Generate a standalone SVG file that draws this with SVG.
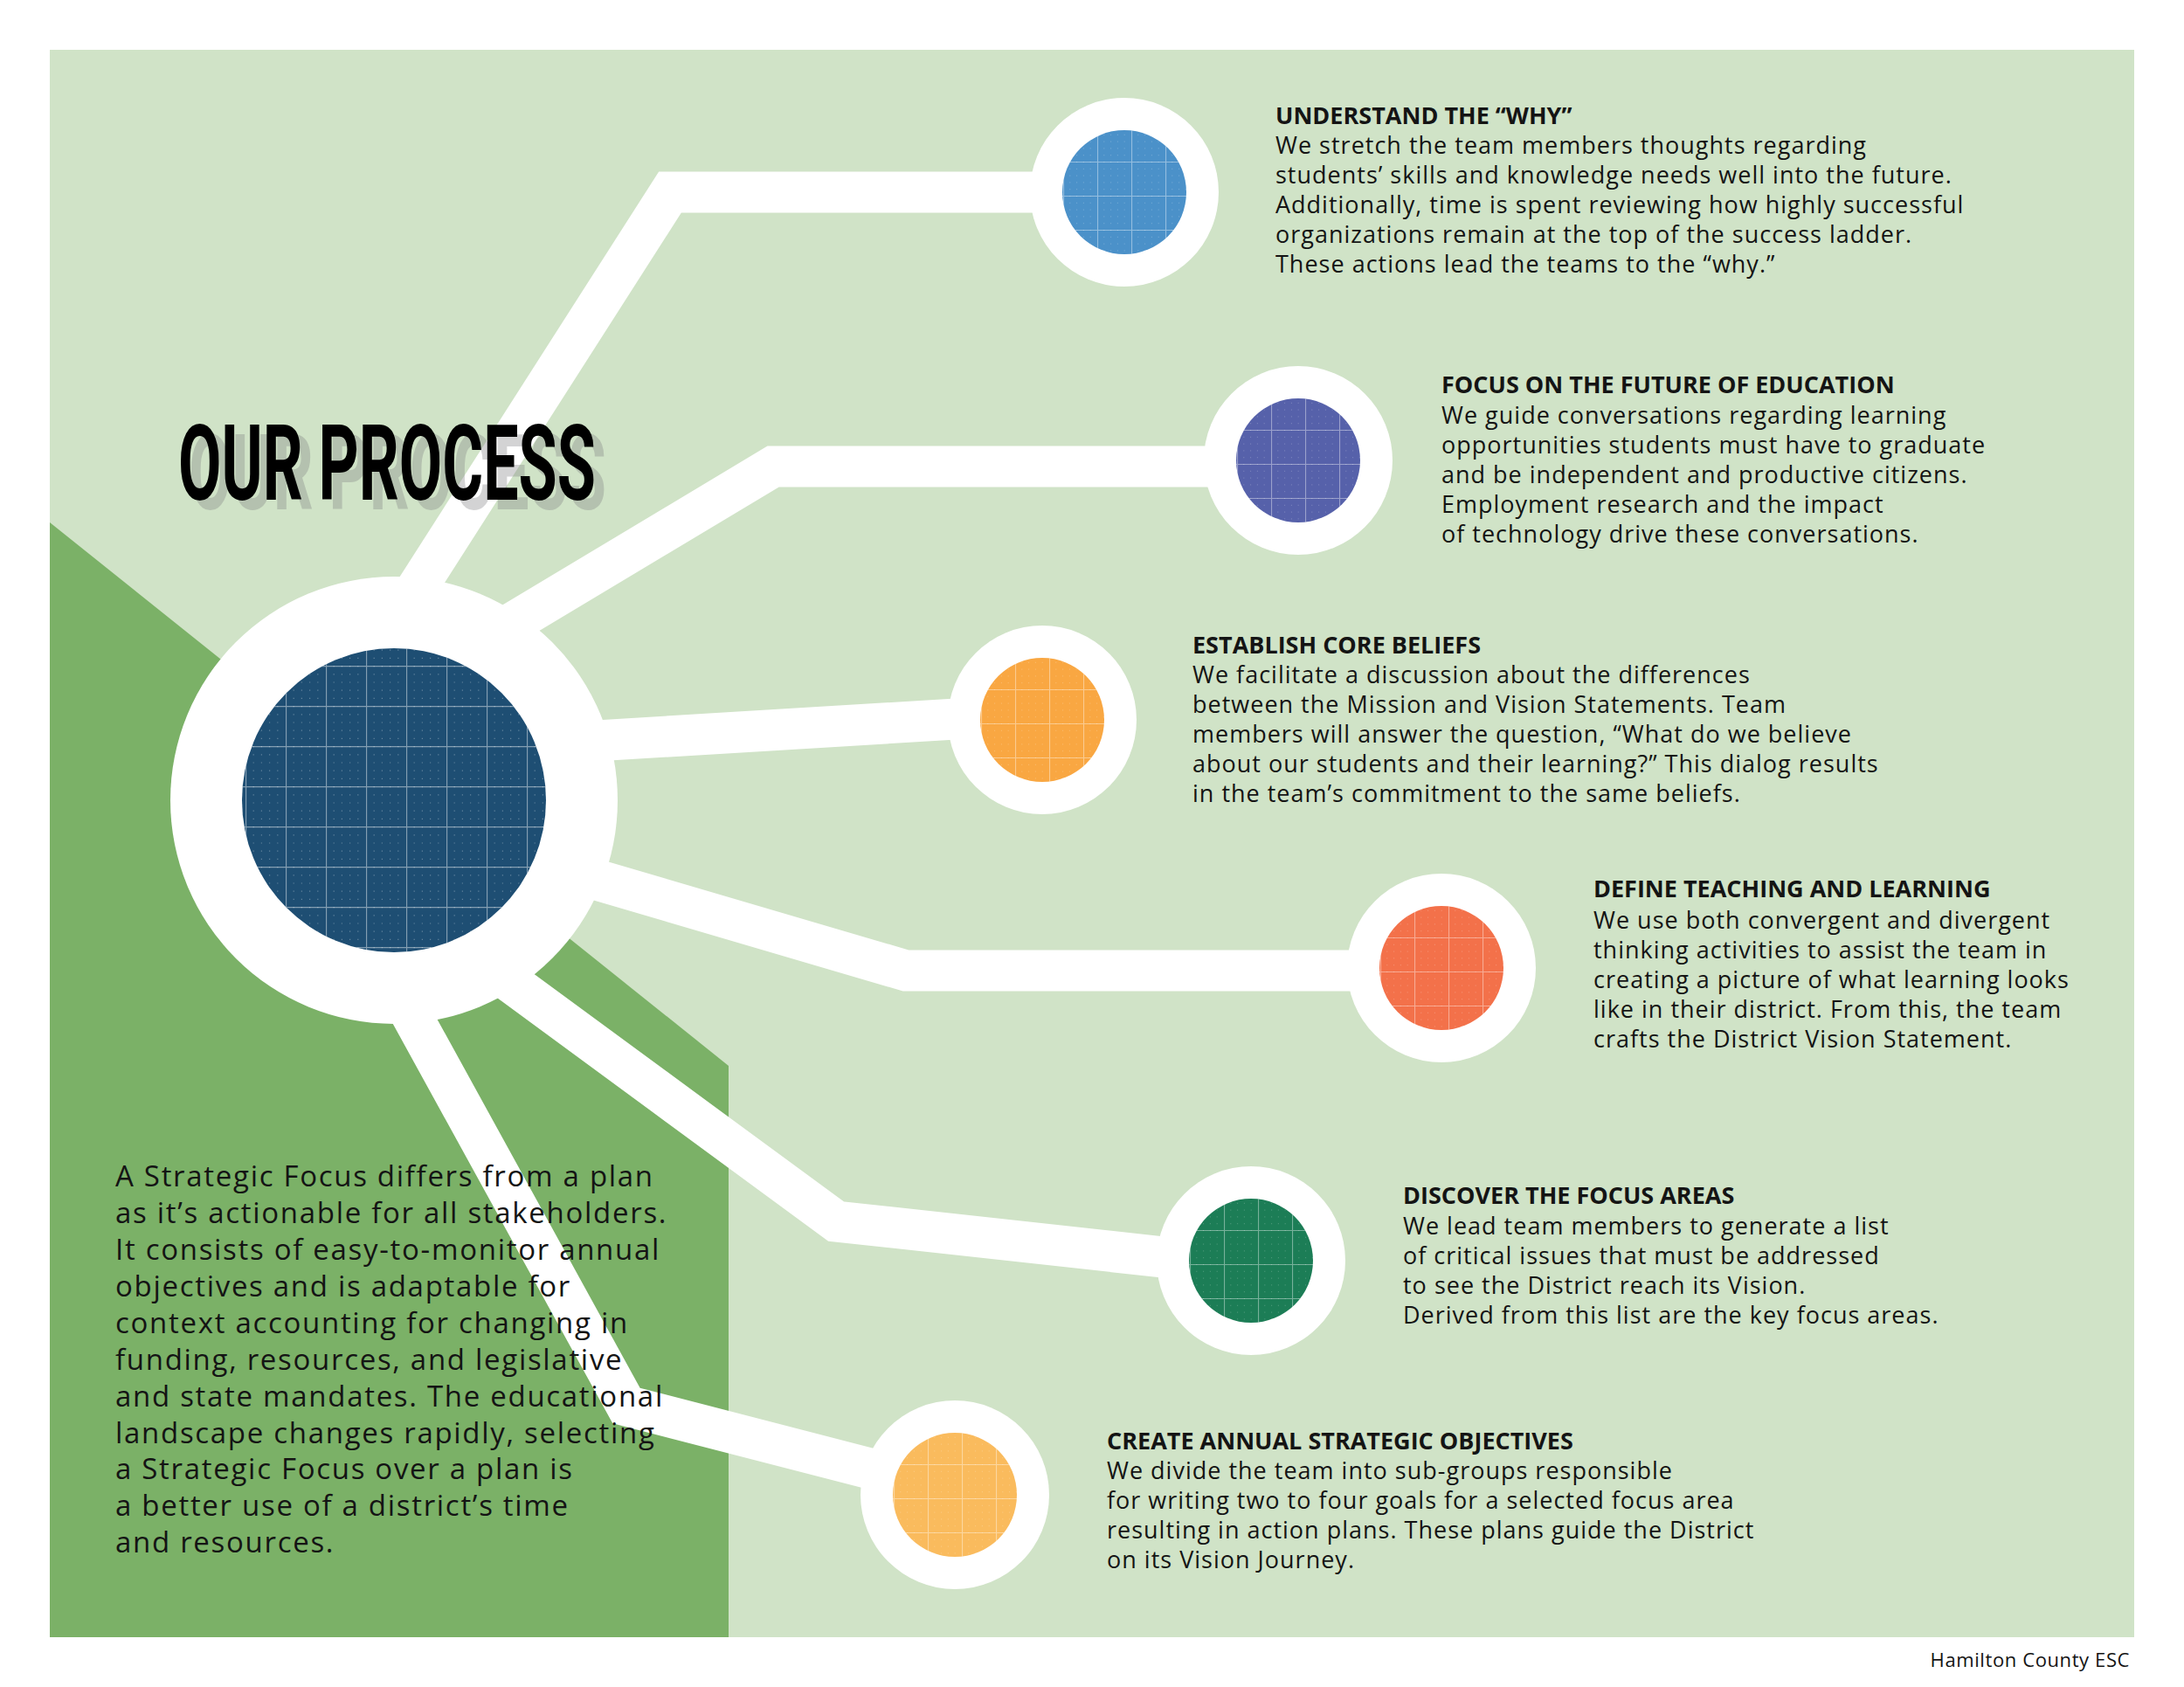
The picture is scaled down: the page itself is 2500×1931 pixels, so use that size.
<svg xmlns="http://www.w3.org/2000/svg" width="2500" height="1931" viewBox="0 0 2500 1931">
<style>
.t{font-family:"Open Sans","Liberation Sans",sans-serif;fill:#141414}
.b{font-size:27px;letter-spacing:1px}
.h{font-size:27px;font-weight:700}
.p{font-size:33px;letter-spacing:1.7px}
.conn{fill:none;stroke:#ffffff;stroke-width:47;stroke-linejoin:miter}
.ring{fill:#ffffff}
.title{font-family:Roboto,"Liberation Sans",sans-serif;font-weight:700;font-size:120px}
</style>
<defs>
<pattern id="gridL" patternUnits="userSpaceOnUse" x="14" y="30" width="46" height="46">
<path d="M0.5 0V46M0 0.5H46" stroke="#ffffff" stroke-opacity="0.45" stroke-width="1.3" fill="none"/>
<path d="M9.2 0V46M18.4 0V46M27.6 0V46M36.8 0V46" stroke="#ffffff" stroke-opacity="0.3" stroke-width="1.2" stroke-dasharray="1.2 8" fill="none"/>
</pattern>
<pattern id="gridS" patternUnits="userSpaceOnUse" x="8" y="4" width="39" height="39">
<path d="M0.5 0V39M0 0.5H39" stroke="#ffffff" stroke-opacity="0.4" stroke-width="1.2" fill="none"/>
<path d="M7.8 0V39M15.6 0V39M23.4 0V39M31.2 0V39" stroke="#ffffff" stroke-opacity="0.25" stroke-width="1" stroke-dasharray="1 6.8" fill="none"/>
</pattern>
</defs>
<rect width="2500" height="1931" fill="#ffffff"/>
<rect x="57" y="57" width="2386" height="1817" fill="#d0e3c7"/>
<polygon points="57,598 834,1220 834,1874 57,1874" fill="#7bb167"/>

<g id="connectors">
<polyline class="conn" points="396,800 767,220 1287,220"/>
<polyline class="conn" points="500,765 885,534 1486,534"/>
<polyline class="conn" points="500,859 1193,817"/>
<polyline class="conn" points="550,968 1037,1111 1650,1111"/>
<polyline class="conn" points="520,1077 957,1398 1432,1450"/>
<polyline class="conn" points="437,1100 717,1609 1093,1706"/>
</g>

<g id="hub">
<circle class="ring" cx="451" cy="916" r="256"/>
<g transform="translate(451,916)">
<circle r="174" fill="#1e4e73"/>
<circle r="174" fill="url(#gridL)"/>
</g>
</g>

<g id="node-why" transform="translate(1287,220)">
<circle class="ring" r="108"/>
<circle r="71" fill="#4b91c9"/>
<circle r="71" fill="url(#gridS)"/>
</g>
<g id="node-future" transform="translate(1486,527)">
<circle class="ring" r="108"/>
<circle r="71" fill="#5661aa"/>
<circle r="71" fill="url(#gridS)"/>
</g>
<g id="node-beliefs" transform="translate(1193,824)">
<circle class="ring" r="108"/>
<circle r="71" fill="#f9a742"/>
<circle r="71" fill="url(#gridS)"/>
</g>
<g id="node-teaching" transform="translate(1650,1108)">
<circle class="ring" r="108"/>
<circle r="71" fill="#f3714a"/>
<circle r="71" fill="url(#gridS)"/>
</g>
<g id="node-focus" transform="translate(1432,1443)">
<circle class="ring" r="108"/>
<circle r="71" fill="#1c7d56"/>
<circle r="71" fill="url(#gridS)"/>
</g>
<g id="node-objectives" transform="translate(1093,1711)">
<circle class="ring" r="108"/>
<circle r="71" fill="#fabb5d"/>
<circle r="71" fill="url(#gridS)"/>
</g>

<g id="title">
<text class="title" x="216" y="583" fill="#808285" fill-opacity="0.35" textLength="478" lengthAdjust="spacingAndGlyphs">OUR PROCESS</text>
<text class="title" x="204" y="572" fill="#000000" textLength="478" lengthAdjust="spacingAndGlyphs">OUR PROCESS</text>
</g>

<g id="text-why">
<text class="t h" x="1460" y="142">UNDERSTAND THE “WHY”</text>
<text class="t b" x="1460" y="176">We stretch the team members thoughts regarding</text>
<text class="t b" x="1460" y="210">students’ skills and knowledge needs well into the future.</text>
<text class="t b" x="1460" y="244">Additionally, time is spent reviewing how highly successful</text>
<text class="t b" x="1460" y="278">organizations remain at the top of the success ladder.</text>
<text class="t b" x="1460" y="312">These actions lead the teams to the “why.”</text>
</g>
<g id="text-future">
<text class="t h" x="1650" y="450">FOCUS ON THE FUTURE OF EDUCATION</text>
<text class="t b" x="1650" y="485">We guide conversations regarding learning</text>
<text class="t b" x="1650" y="519">opportunities students must have to graduate</text>
<text class="t b" x="1650" y="553">and be independent and productive citizens.</text>
<text class="t b" x="1650" y="587">Employment research and the impact</text>
<text class="t b" x="1650" y="621">of technology drive these conversations.</text>
</g>
<g id="text-beliefs">
<text class="t h" x="1365" y="748">ESTABLISH CORE BELIEFS</text>
<text class="t b" x="1365" y="782">We facilitate a discussion about the differences</text>
<text class="t b" x="1365" y="816">between the Mission and Vision Statements. Team</text>
<text class="t b" x="1365" y="850">members will answer the question, “What do we believe</text>
<text class="t b" x="1365" y="884">about our students and their learning?” This dialog results</text>
<text class="t b" x="1365" y="918">in the team’s commitment to the same beliefs.</text>
</g>
<g id="text-teaching">
<text class="t h" x="1824" y="1027">DEFINE TEACHING AND LEARNING</text>
<text class="t b" x="1824" y="1063">We use both convergent and divergent</text>
<text class="t b" x="1824" y="1097">thinking activities to assist the team in</text>
<text class="t b" x="1824" y="1131">creating a picture of what learning looks</text>
<text class="t b" x="1824" y="1165">like in their district. From this, the team</text>
<text class="t b" x="1824" y="1199">crafts the District Vision Statement.</text>
</g>
<g id="text-focus">
<text class="t h" x="1606" y="1378">DISCOVER THE FOCUS AREAS</text>
<text class="t b" x="1606" y="1413">We lead team members to generate a list</text>
<text class="t b" x="1606" y="1447">of critical issues that must be addressed</text>
<text class="t b" x="1606" y="1481">to see the District reach its Vision.</text>
<text class="t b" x="1606" y="1515">Derived from this list are the key focus areas.</text>
</g>
<g id="text-objectives">
<text class="t h" x="1267" y="1659">CREATE ANNUAL STRATEGIC OBJECTIVES</text>
<text class="t b" x="1267" y="1693">We divide the team into sub-groups responsible</text>
<text class="t b" x="1267" y="1727">for writing two to four goals for a selected focus area</text>
<text class="t b" x="1267" y="1761">resulting in action plans. These plans guide the District</text>
<text class="t b" x="1267" y="1795">on its Vision Journey.</text>
</g>
<g id="text-intro">
<text class="t p" x="132" y="1358">A Strategic Focus differs from a plan</text>
<text class="t p" x="132" y="1400">as it’s actionable for all stakeholders.</text>
<text class="t p" x="132" y="1442">It consists of easy-to-monitor annual</text>
<text class="t p" x="132" y="1484">objectives and is adaptable for</text>
<text class="t p" x="132" y="1526">context accounting for changing in</text>
<text class="t p" x="132" y="1568">funding, resources, and legislative</text>
<text class="t p" x="132" y="1610">and state mandates. The educational</text>
<text class="t p" x="132" y="1652">landscape changes rapidly, selecting</text>
<text class="t p" x="132" y="1693">a Strategic Focus over a plan is</text>
<text class="t p" x="132" y="1735">a better use of a district’s time</text>
<text class="t p" x="132" y="1777">and resources.</text>
</g>
<text class="t" x="2438" y="1908" font-size="22" letter-spacing="0.6" text-anchor="end">Hamilton County ESC</text>
</svg>
